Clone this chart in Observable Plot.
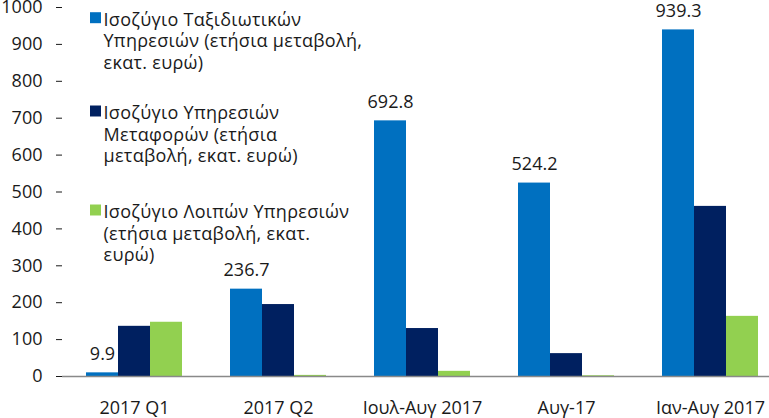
<!DOCTYPE html>
<html>
<head>
<meta charset="utf-8">
<script src="https://cdn.jsdelivr.net/npm/d3@7"></script>
<script src="https://cdn.jsdelivr.net/npm/@observablehq/plot@0.6"></script>
<style>
  html, body { margin: 0; padding: 0; background: #fff; }
  #chart svg { overflow: hidden; display: block; }
</style>
</head>
<body>
<div id="chart"></div>
<script>
// ---- data ----
const categories = ["2017 Q1", "2017 Q2", "Ιουλ-Αυγ 2017", "Αυγ-17", "Ιαν-Αυγ 2017"];
const seriesKeys = ["travel", "transport", "other"];
const travel = [9.9, 236.7, 692.8, 524.2, 939.3];
const transport = [136, 195, 130, 62, 461];
const other = [147, 3, 14, 2, 163];
const yTicks = [0, 100, 200, 300, 400, 500, 600, 700, 800, 900, 1000];
const legendLabels = [
  "Ισοζύγιο Ταξιδιωτικών\nΥπηρεσιών (ετήσια μεταβολή,\nεκατ. ευρώ)",
  "Ισοζύγιο Υπηρεσιών\nΜεταφορών (ετήσια\nμεταβολή, εκατ. ευρώ)",
  "Ισοζύγιο Λοιπών Υπηρεσιών\n(ετήσια μεταβολή, εκατ.\nευρώ)"
];
const colors = ["#0070C0", "#002060", "#92D050"];

// ---- build table ----
const valuesBySeries = {travel, transport, other};
const rows = [];
categories.forEach((c, i) => {
  seriesKeys.forEach(s => rows.push({cat: c, series: s, value: valuesBySeries[s][i]}));
});
const travelRows = rows.filter(d => d.series === "travel");

// ---- layout ----
const W = 769, H = 418;
const mTop = 7, mBottom = 42, mLeft = 62;
const fxRange = [62, 782];
const band = (fxRange[1] - fxRange[0]) / categories.length;
const fs = 18;
const axisColor = "#898989";
const textColor = "#1a1a1a";
const font = "'Open Sans', 'Noto Sans', sans-serif";
const legendBaselines = [25, 118.3, 217.3];
const legendLH = 1.21;
const legendRows = legendLabels.map((t, i) => ({cat: categories[0], series: seriesKeys[i], label: t, base: legendBaselines[i]}));

const marks = [
  Plot.barY(rows, {fx: "cat", x: "series", y: "value", fill: "series"}),
  Plot.ruleY([0], {stroke: axisColor, strokeWidth: 1.3}),
  Plot.ruleX(categories, {fx: d => d, y1: 0, y2: 0, insetBottom: -6, dx: -band / 2, stroke: axisColor, strokeWidth: 1.3}),
  Plot.ruleX([categories[0]], {fx: d => d, y1: 0, y2: 1000, dx: -band / 2, stroke: axisColor, strokeWidth: 1.3}),
  Plot.text(travelRows, {fx: "cat", x: "series", y: "value", text: d => d.value.toFixed(1), lineAnchor: "bottom", dy: -13, fontSize: fs, fill: textColor})
];
legendRows.forEach((r, i) => {
  marks.push(Plot.dot([r], {fx: "cat", frameAnchor: "top-left", dx: 95 - mLeft, dy: r.base - 7.8 - mTop, symbol: "square", r: 6.2, fill: colors[i], stroke: null}));
  marks.push(Plot.text([r], {fx: "cat", frameAnchor: "top-left", text: "label", dx: 103 - mLeft, dy: r.base - mTop - 0.71 * legendLH * fs, textAnchor: "start", lineAnchor: "top", lineHeight: legendLH, fontSize: fs, fill: textColor}));
});

const chart = Plot.plot({
  width: W, height: H,
  marginTop: mTop, marginBottom: mBottom, marginLeft: mLeft, marginRight: 0,
  style: {fontFamily: font, fontSize: fs + "px", color: textColor, background: "#fff"},
  facet: {marginTop: 0, marginBottom: 0, marginLeft: 0, marginRight: 0},
  fx: {domain: categories, range: fxRange, padding: 0, axis: "bottom", tickSize: 0, tickPadding: 25, label: null},
  x: {domain: seriesKeys, paddingInner: 0, paddingOuter: 0.75, axis: null},
  y: {domain: [0, 1000], ticks: yTicks, tickFormat: "d", tickSize: 6, tickPadding: 14, label: null},
  color: {domain: seriesKeys, range: colors},
  marks
});
// legend text: slightly wider tracking to match the reference font
chart.querySelectorAll("text").forEach(t => {
  if (t.querySelector("tspan")) t.style.letterSpacing = "0.3px";
});
document.getElementById("chart").appendChild(chart);
</script>
</body>
</html>
